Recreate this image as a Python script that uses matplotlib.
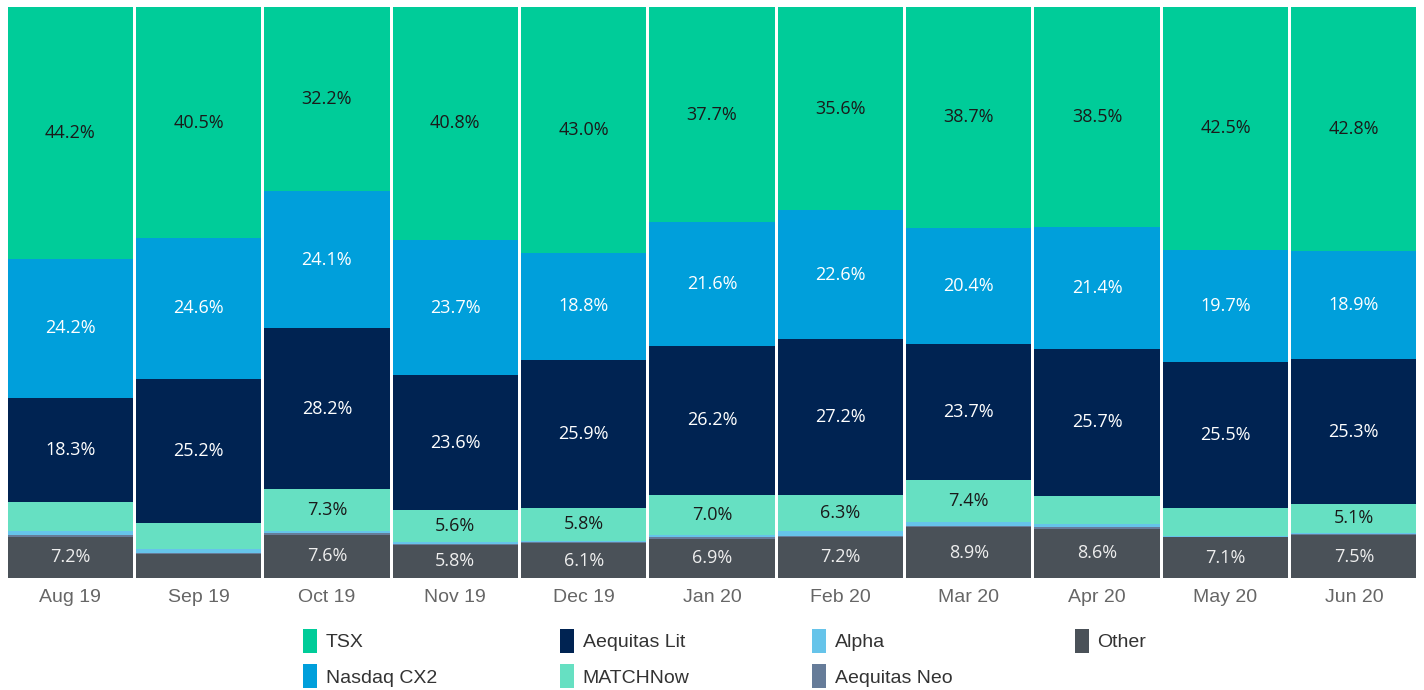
import matplotlib
matplotlib.use("Agg")
import matplotlib.pyplot as plt
import numpy as np

months = ["Aug 19", "Sep 19", "Oct 19", "Nov 19", "Dec 19", "Jan 20",
          "Feb 20", "Mar 20", "Apr 20", "May 20", "Jun 20"]

other        = [7.2, 4.2, 7.6, 5.8, 6.1, 6.9, 7.2, 8.9, 8.6, 7.1, 7.5]
aequitas_neo = [0.3, 0.2, 0.2, 0.2, 0.25, 0.3, 0.2, 0.2, 0.3, 0.05, 0.2]
alpha        = [0.8, 0.6, 0.4, 0.3, 0.15, 0.3, 0.9, 0.7, 0.5, 0.25, 0.2]
matchnow     = [5.0, 4.7, 7.3, 5.6, 5.8, 7.0, 6.3, 7.4, 5.0, 4.9, 5.1]
aequitas_lit = [18.3, 25.2, 28.2, 23.6, 25.9, 26.2, 27.2, 23.7, 25.7, 25.5, 25.3]
nasdaq_cx2   = [24.2, 24.6, 24.1, 23.7, 18.8, 21.6, 22.6, 20.4, 21.4, 19.7, 18.9]
tsx          = [44.2, 40.5, 32.2, 40.8, 43.0, 37.7, 35.6, 38.7, 38.5, 42.5, 42.8]

series = [
    ("Other", other, "#4a5158", "#eeeeee"),
    ("Aequitas Neo", aequitas_neo, "#667c99", None),
    ("Alpha", alpha, "#66c4ea", None),
    ("MATCHNow", matchnow, "#66e0c2", "#1a1a1a"),
    ("Aequitas Lit", aequitas_lit, "#002352", "#ffffff"),
    ("Nasdaq CX2", nasdaq_cx2, "#009fdb", "#ffffff"),
    ("TSX", tsx, "#00cc99", "#1a1a1a"),
]

fig = plt.figure(figsize=(14.24, 6.9), dpi=100)
ax = fig.add_axes([6/1424, 1 - 578/690, 1412/1424, 571/690])

x = np.arange(len(months))
bottom = np.zeros(len(months))
handles = {}
for name, vals, color, tcolor in series:
    vals = np.array(vals, dtype=float)
    bars = ax.bar(x, vals, bottom=bottom, width=0.976, color=color,
                  edgecolor="none", label=name)
    handles[name] = bars
    if tcolor is not None:
        for xi, v, b in zip(x, vals, bottom):
            if v > 5.0:
                ax.text(xi, b + v / 2, f"{v:.1f}%", ha="center", va="center",
                        color=tcolor, fontsize=13, family="Open Sans")
    bottom += vals

ax.set_xlim(-0.5, len(months) - 0.5)
ax.set_ylim(0, 100)
for s in ax.spines.values():
    s.set_visible(False)
ax.set_yticks([])
ax.set_xticks(x)
ax.set_xticklabels(months, fontsize=14, color="#666666", family="Liberation Sans")
ax.tick_params(axis="x", length=0, pad=8)

order = ["TSX", "Nasdaq CX2", "Aequitas Lit", "MATCHNow", "Alpha", "Aequitas Neo", "Other"]
leg = fig.legend([handles[n] for n in order], order, ncol=4,
                 loc="center", bbox_to_anchor=(0.509, 0.0457),
                 frameon=False, handlelength=0.72, handleheight=1.5,
                 handletextpad=0.45, columnspacing=6.3, labelspacing=0.6,
                 borderpad=0, prop={"family": "Liberation Sans", "size": 14})
for t in leg.get_texts():
    t.set_color("#333333")

fig.savefig("out.png", dpi=100)
